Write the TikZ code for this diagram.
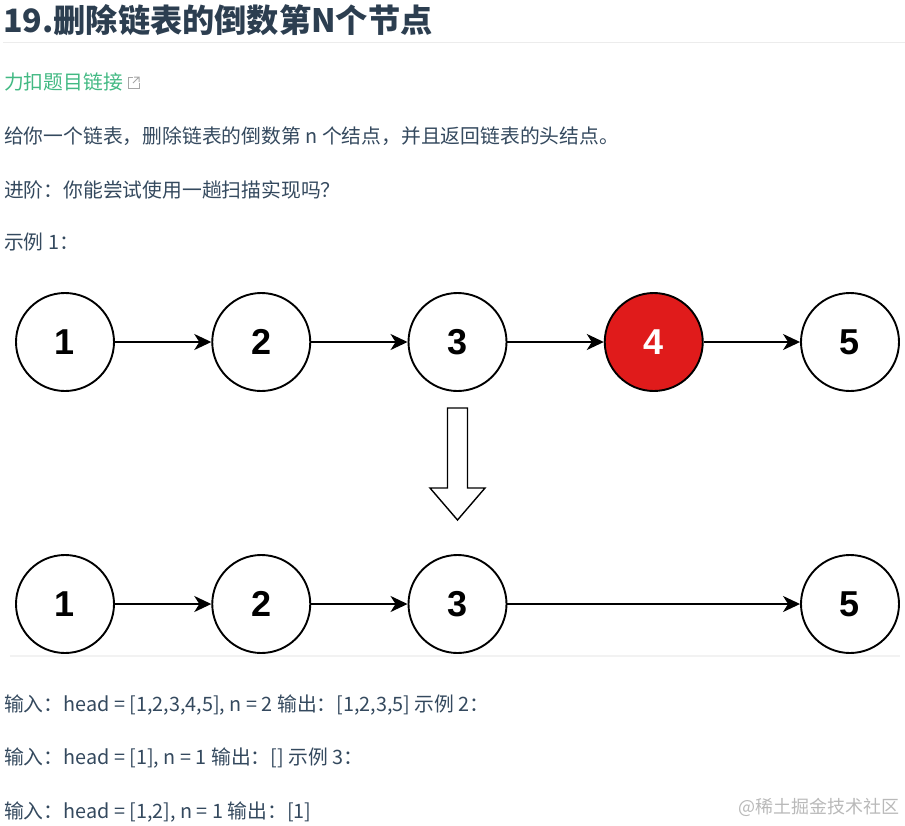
\documentclass[tikz,border=0pt]{standalone}
\usepackage{fontspec}
\setmainfont{Noto Sans CJK SC}
\newfontfamily\numfont{Liberation Sans}
\usepackage{tikz}
\usetikzlibrary{arrows.meta}
\usetikzlibrary{positioning}

\definecolor{nodered}{RGB}{224,27,27}
\definecolor{titlegray}{RGB}{44,62,80}
\definecolor{textgray}{RGB}{52,73,94}
\definecolor{linkgreen}{RGB}{66,185,131}

\tikzset{
  listnode/.style={circle, draw=black, line width=1.9pt, minimum size=98pt, inner sep=0pt,
                   fill=white, font=\numfont\bfseries\fontsize{36}{36}\selectfont},
  nextptr/.style={line width=1.9pt, -{Stealth[length=17pt,width=16pt,inset=5pt]}},
  bodytxt/.style={anchor=west, inner sep=0pt, text=textgray, font=\fontsize{19.8}{22}\selectfont},
}

\begin{document}
\begin{tikzpicture}[x=1pt, y=-1pt]
  \useasboundingbox (0,0) rectangle (905,825);

  \def\d{196.25};

  %title
  \node[anchor=west, inner sep=0pt, text=titlegray, font=\bfseries\fontsize{32.2}{36}\selectfont] (title) at (3,20) {19.删除链表的倒数第N个节点};
  \draw[gray!15, line width=1pt] (3,42) -- (905,42);

  %link
  \node[anchor=west, inner sep=0pt, text=linkgreen, font=\fontsize{19.8}{22}\selectfont] (link) at (4,82) {力扣题目链接};
  \draw[gray!70, line width=1pt] (133,77) -- (128,77) -- (128,88) -- (139,88) -- (139,83);
  \draw[gray!70, line width=1pt] (133,83) -- (139,77) (134,77) -- (139,77) -- (139,82);

  %text
  \node[bodytxt] (desc) at (4,136) {给你一个链表，删除链表的倒数第 n 个结点，并且返回链表的头结点。};
  \node[bodytxt] (adv) at (4,190) {进阶：你能尝试使用一趟扫描实现吗？};
  \node[bodytxt] (ex1) at (4,242) {示例 1：};

  %list before
  \def\dy{342};
  \foreach \i/\num/\name in {0/1/a1,1/2/a2,2/3/a3,4/5/a5}{
     \node[listnode] (\name) at (65+\i*\d, \dy) {\num};
  }
  \node[listnode, fill=nodered, text=white] (a4) at (65+3*\d, \dy) {4};

  \foreach \s/\t in {a1/a2,a2/a3,a3/a4,a4/a5}{
     \draw[nextptr] (\s) -- (\t);
  }

  %hollow arrow
  \draw[line width=1.4pt, fill=white, line join=miter]
     (447.5,408) -- (467.5,408) -- (467.5,488) -- (485,488) -- (457.5,520) -- (430,488) -- (447.5,488) -- cycle;

  %list after
  \def\dy{604};
  \foreach \i/\num/\name in {0/1/b1,1/2/b2,2/3/b3,4/5/b5}{
     \node[listnode] (\name) at (65+\i*\d, \dy) {\num};
  }

  \foreach \s/\t in {b1/b2,b2/b3,b3/b5}{
     \draw[nextptr] (\s) -- (\t);
  }
  \draw[gray!10, line width=1.5pt] (10,656) -- (900,656);

  %examples
  \node[bodytxt] (in1) at (4,705) {输入：head = [1,2,3,4,5], n = 2 输出：[1,2,3,5] 示例 2：};
  \node[bodytxt] (in2) at (4,758) {输入：head = [1], n = 1 输出：[] 示例 3：};
  \node[bodytxt] (in3) at (4,812) {输入：head = [1,2], n = 1 输出：[1]};

  %watermark
  \node[anchor=east, inner sep=0pt, text=gray!55, font=\fontsize{18}{20}\selectfont] (mark) at (900,807) {@稀土掘金技术社区};
\end{tikzpicture}
\end{document}
